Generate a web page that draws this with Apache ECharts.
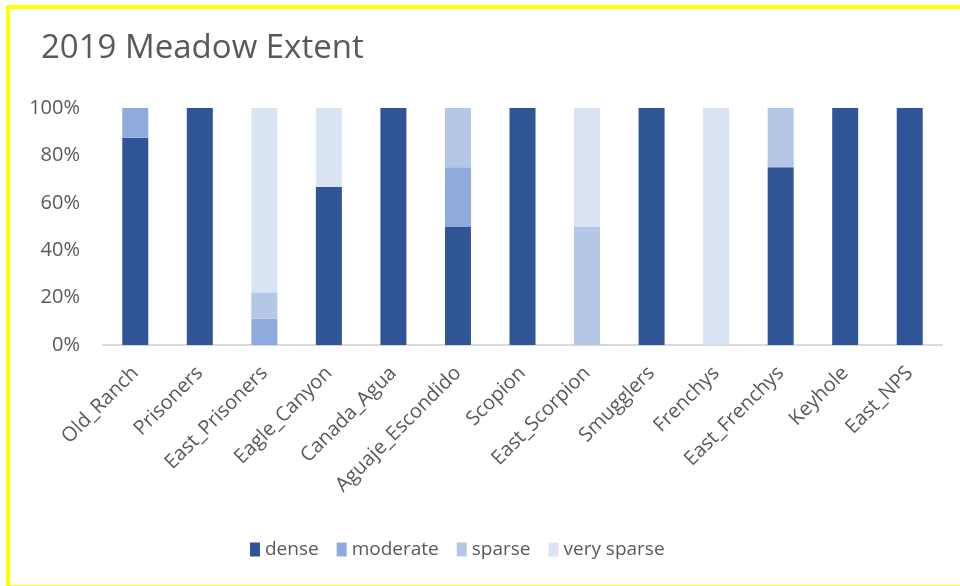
<!DOCTYPE html>
<html>
<head>
<meta charset="utf-8">
<script src="https://cdn.jsdelivr.net/npm/echarts@6/dist/echarts.min.js"></script>
<style>
  html, body { margin: 0; padding: 0; background: #fff; }
  #chart { position: absolute; left: 0; top: 0; width: 960px; height: 586px; }
  #frame {
    position: absolute; left: 6px; top: 5px; width: 960px; height: 576px;
    border-left: 4px solid #ffff00; border-top: 4px solid #ffff00; border-bottom: 1px solid #ffff00;
    pointer-events: none;
  }
</style>
</head>
<body>
<div id="chart"></div>
<div id="frame"></div>
<script>
const sites = ["Old_Ranch", "Prisoners", "East_Prisoners", "Eagle_Canyon", "Canada_Agua",
  "Aguaje_Escondido", "Scopion", "East_Scorpion", "Smugglers", "Frenchys",
  "East_Frenchys", "Keyhole", "East_NPS"];

// percent of meadow area per class
const dense      = [87.5, 100, 0,    66.7, 100, 50, 100, 0,  100, 0,   75, 100, 100];
const moderate   = [12.5, 0,   11.1, 0,    0,   25, 0,   0,  0,   0,   0,  0,   0];
const sparse     = [0,    0,   11.1, 0,    0,   25, 0,   50, 0,   0,   25, 0,   0];
const verySparse = [0,    0,   77.8, 33.3, 0,   0,  0,   50, 0,   100, 0,  0,   0];

const yTicks = [0, 20, 40, 60, 80, 100];

const chart = echarts.init(document.getElementById("chart"));

const makeSeries = (name, data, color) => ({
  name: name,
  type: "bar",
  stack: "total",
  data: data,
  barWidth: 26,
  itemStyle: { color: color },
  emphasis: { disabled: true }
});

const option = {
  animation: false,
  textStyle: { fontFamily: "Open Sans" },
  title: {
    text: "2019 Meadow Extent",
    left: 36,
    top: 27,
    textStyle: { fontFamily: "Open Sans", fontSize: 33, fontWeight: "normal", color: "#595959" }
  },
  legend: {
    left: 245,
    top: 535,
    itemWidth: 10,
    itemHeight: 14,
    itemGap: 18,
    icon: "rect",
    textStyle: { fontSize: 19, color: "#595959", fontFamily: "Open Sans" },
    data: ["dense", "moderate", "sparse", "very sparse"]
  },
  grid: { left: 103, right: 18, top: 108, bottom: 241 },
  xAxis: {
    type: "category",
    data: sites,
    axisLine: { lineStyle: { color: "#d9d9d9", width: 2 } },
    axisTick: { show: false },
    axisLabel: { rotate: 45, margin: 25, fontSize: 20, color: "#595959", interval: 0 }
  },
  yAxis: {
    type: "value",
    min: yTicks[0],
    max: yTicks[yTicks.length - 1],
    interval: yTicks[1] - yTicks[0],
    splitLine: { show: false },
    axisLine: { show: false },
    axisTick: { show: false },
    axisLabel: { formatter: "{value}%", fontSize: 20, color: "#595959", margin: 23 }
  },
  series: [
    makeSeries("dense", dense, "#2f5597"),
    makeSeries("moderate", moderate, "#8faadc"),
    makeSeries("sparse", sparse, "#b4c7e7"),
    makeSeries("very sparse", verySparse, "#dae3f3")
  ]
};

chart.setOption(option);
</script>
</body>
</html>
